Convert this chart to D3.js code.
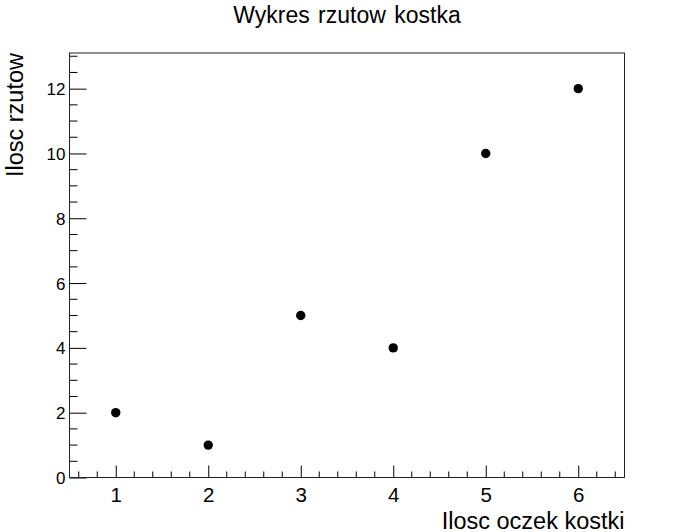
<!DOCTYPE html>
<html>
<head>
<meta charset="utf-8">
<script src="https://cdn.jsdelivr.net/npm/d3@7"></script>
<style>
  body { margin: 0; background: #fff; }
  text { font-family: "Liberation Sans", Arial, sans-serif; fill: #000; }
</style>
</head>
<body>
<div id="chart"></div>
<script>
(function(){
    // dane: ilosc oczek i ilosc rzutow
    const oczka = [1, 2, 3, 4, 5, 6];
    const rzuty = [2, 1, 5, 4, 10, 12];
    const xTicks = [1, 2, 3, 4, 5, 6];
    const yTicks = [0, 2, 4, 6, 8, 10, 12];

    const svg_width = 695;
    const svg_height = 532;
    const margin = { top: 53, right: 70.5, bottom: 54.5, left: 69.5 };
    const chart_width = svg_width - margin.left - margin.right;
    const chart_height = svg_height - margin.top - margin.bottom;

    const svg = d3.select('#chart').append('svg')
        .attr('width', svg_width).attr('height', svg_height);

    const g = svg.append('g')
        .attr('transform', `translate(${margin.left},${margin.top})`);

    const xScale = d3.scaleLinear().domain([0.5, 6.5]).range([0, chart_width]);
    const yScale = d3.scaleLinear().domain([0, 13.1]).range([chart_height, 0]);

    // minor ticks
    const xMinor = d3.range(0.6, 6.5, 0.2).filter(v => Math.abs(v - Math.round(v)) > 0.01);
    const yMinor = d3.range(0.5, 13.1, 0.5).filter(v => v % 2 !== 0);

    g.append('g').selectAll('line').data(xMinor).enter()
        .append('line')
        .attr('x1', d => xScale(d)).attr('x2', d => xScale(d))
        .attr('y1', chart_height).attr('y2', chart_height - 6)
        .style('stroke', '#000');

    g.append('g').selectAll('line').data(yMinor).enter()
        .append('line')
        .attr('x1', 0).attr('x2', 8)
        .attr('y1', d => yScale(d)).attr('y2', d => yScale(d))
        .style('stroke', '#000');

    // X axis
    const xAxis = d3.axisTop(xScale).tickValues(xTicks).tickFormat(d3.format('d'))
        .tickSizeInner(12).tickSizeOuter(0);
    const xg = g.append('g').attr('transform', `translate(0,${chart_height})`).call(xAxis);
    xg.select('.domain').remove();
    xg.selectAll('.tick line').attr('y2', -12).style('stroke', '#000');
    xg.selectAll('.tick text')
        .attr('y', 24).attr('dy', null)
        .style('dominant-baseline', 'auto')
        .style('font-size', '20.5px')
        .style('font-family', '"Liberation Sans", Arial, sans-serif');

    // Y axis
    const yAxis = d3.axisRight(yScale).tickValues(yTicks).tickFormat(d3.format('d'))
        .tickSizeInner(17).tickSizeOuter(0);
    const yg = g.append('g').call(yAxis);
    yg.select('.domain').remove();
    yg.selectAll('.tick line').style('stroke', '#000');
    yg.selectAll('.tick text')
        .attr('x', -4).attr('dy', '0.35em')
        .style('text-anchor', 'end')
        .style('font-size', '17px')
        .style('font-family', '"Liberation Sans", Arial, sans-serif');

    // ramka
    g.append('rect')
        .attr('x', 0).attr('y', 0)
        .attr('width', chart_width).attr('height', chart_height)
        .style('fill', 'none').style('stroke', '#222').style('stroke-width', 1);

    // punkty
    g.append('g').selectAll('circle').data(oczka).enter()
        .append('circle')
        .attr('cx', (d, i) => xScale(d))
        .attr('cy', (d, i) => yScale(rzuty[i]))
        .attr('r', 4.7)
        .style('fill', '#000');

    // tytul
    svg.append('text')
        .attr('x', 347).attr('y', 23)
        .style('text-anchor', 'middle')
        .style('font-size', '23px')
        .style('word-spacing', '2px')
        .text('Wykres rzutow kostka');

    // opisy osi
    svg.append('text')
        .attr('x', margin.left + chart_width).attr('y', 528.5)
        .style('text-anchor', 'end')
        .style('font-size', '23.5px')
        .text('Ilosc oczek kostki');

    svg.append('text')
        .attr('transform', `translate(23,${margin.top}) rotate(-90)`)
        .style('text-anchor', 'end')
        .style('font-size', '23.5px')
        .text('Ilosc rzutow');
})();
</script>
</body>
</html>
